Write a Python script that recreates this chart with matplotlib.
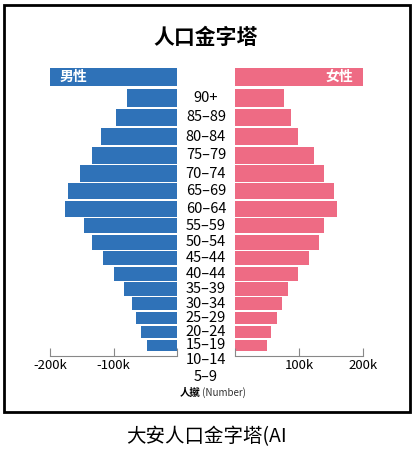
import matplotlib
matplotlib.use("Agg")
import matplotlib.pyplot as plt
import numpy as np
from matplotlib.patches import Rectangle

plt.rcParams['font.family'] = ['Noto Sans CJK TC', 'DejaVu Sans']

ages = ["90+", "85–89", "80–84", "75–79", "70–74", "65–69", "60–64", "55–59",
        "50–54", "45–44", "40–44", "35–39", "30–34", "25–29", "20–24", "15–19"]
extra_labels = ["10–14", "5–9"]
male = [79, 96, 120, 134, 153, 172, 177, 147, 134, 117, 99, 83, 71, 64, 56, 48]
female = [77, 87, 99, 124, 139, 155, 160, 139, 131, 115, 99, 83, 74, 65, 56, 50]
male = [v * 1000 for v in male]
female = [v * 1000 for v in female]
xticks_left = [-200000, -100000, 0]
xticks_right = [0, 100000, 200000]

W, H = 413, 454
fig = plt.figure(figsize=(W / 100, H / 100), dpi=100)

def ax_at(x0, x1, y0, y1):
    return fig.add_axes([x0 / W, 1 - y1 / H, (x1 - x0) / W, (y1 - y0) / H])

Y0, Y1 = 60, 356
axL = ax_at(50, 177, Y0, Y1)
axR = ax_at(235, 363, Y0, Y1)

pitch = np.linspace(19.8, 13.2, len(ages))
tops = 88 + np.concatenate([[0], np.cumsum(pitch)[:-1]])
centers = tops + pitch / 2
hts = pitch - 1.6

blue, pink = "#2f72b8", "#ee6b84"
axL.barh(centers, [-v for v in male], height=hts, color=blue)
axR.barh(centers, female, height=hts, color=pink)
axL.barh([77], [-200000], height=18, color=blue)
axR.barh([77], [200000], height=18, color=pink)
axL.text(-185000, 77, "男性", color="white", fontsize=10, fontweight="bold", va="center", ha="left")
axR.text(185000, 77, "女性", color="white", fontsize=10, fontweight="bold", va="center", ha="right")

for ax, lim, ticks in [(axL, (-200000, 0), xticks_left), (axR, (0, 200000), xticks_right)]:
    ax.set_xlim(*lim)
    ax.set_ylim(Y1, Y0)
    ax.set_yticks([])
    ax.set_xticks(ticks)
    for s in ["top", "left", "right"]:
        ax.spines[s].set_visible(False)
    ax.spines["bottom"].set_color("#888888")
    ax.tick_params(axis="x", direction="in", length=6, color="#888888", labelsize=9.5, pad=2)
axL.set_xticklabels(["-200k", "-100k", ""])
axR.set_xticklabels(["", "100k", "200k"])

cx = 206 / W
for c, a in zip(centers, ages):
    fig.text(cx, 1 - c / H, a, ha="center", va="center", fontsize=10.5)
for y, a in zip([360, 377], extra_labels):
    fig.text(cx, 1 - y / H, a, ha="center", va="center", fontsize=10.5)

fig.text(206 / W, 1 - 37 / H, "人口金字塔", ha="center", va="center", fontsize=15, fontweight="bold")
fig.text(200 / W, 1 - 393 / H, "人㩆", ha="right", va="center", fontsize=7.5, fontweight="bold")
fig.text(200 / W, 1 - 393 / H, " (Number)", ha="left", va="center", fontsize=7, color="#333333")
fig.text(206 / W, 1 - 437 / H, "大安人口金字塔(AI", ha="center", va="center", fontsize=14)

fig.patches.append(Rectangle((4 / W, 1 - 412 / H), 406 / W, 407 / H, transform=fig.transFigure,
                             fill=False, edgecolor="black", linewidth=2))
fig.savefig("out.png", dpi=100)
